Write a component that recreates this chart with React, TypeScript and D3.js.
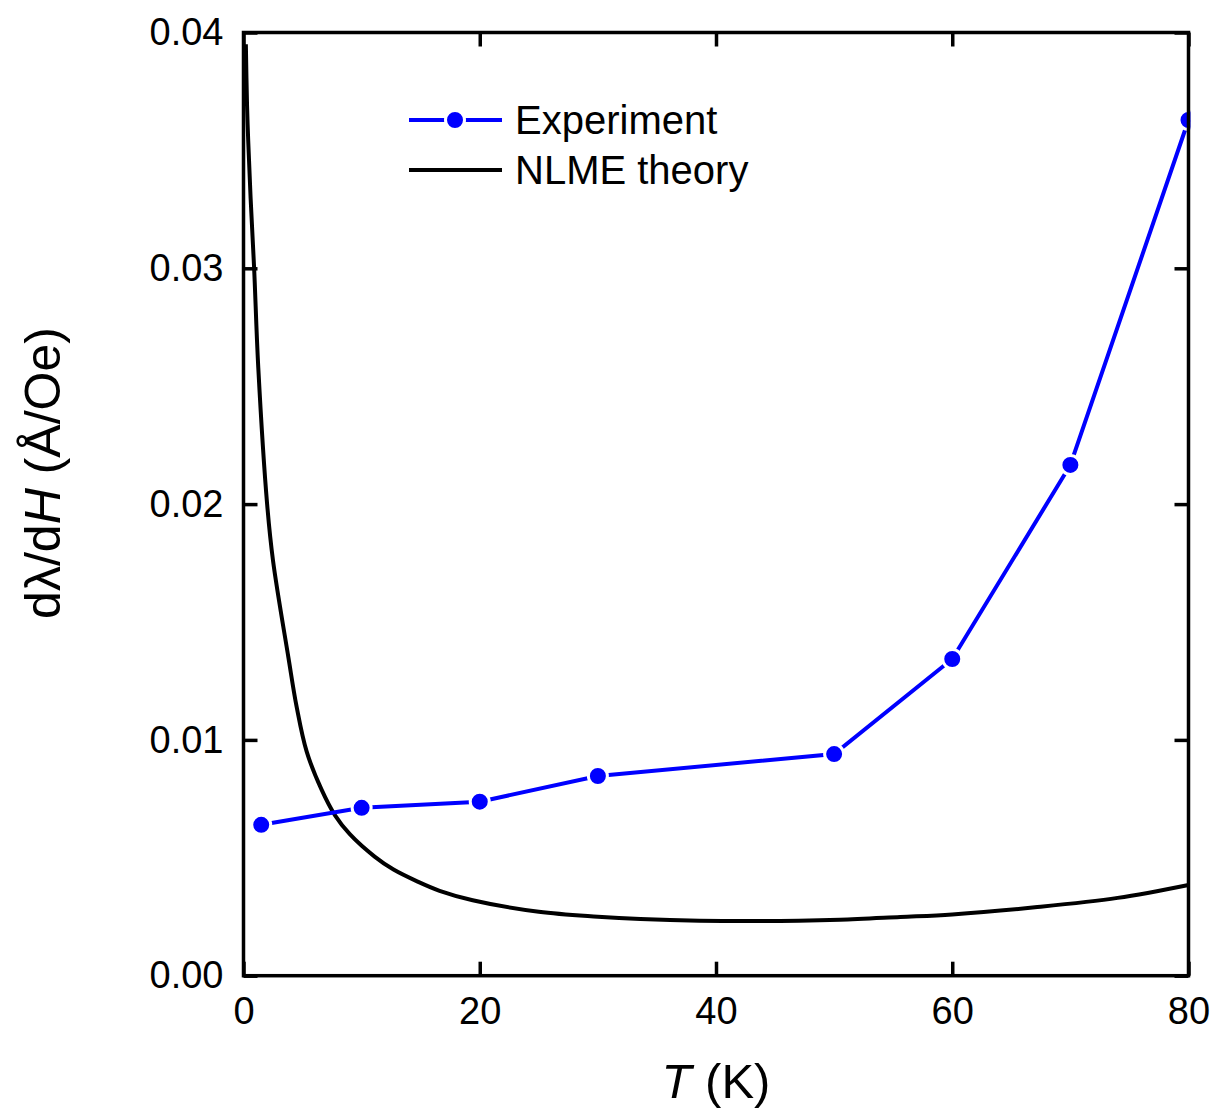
import { useEffect, useRef } from "react";
import * as d3 from "d3";

// Experiment points (T in K, dλ/dH in Å/Oe)
const expT = [1.5, 10, 20, 30, 50, 60, 70, 80];
const expV = [0.0064, 0.00712, 0.00738, 0.00847, 0.0094, 0.01343, 0.02166, 0.03629];

// NLME theory curve
const theoryT = [0.2, 0.3, 0.4, 0.6, 0.9, 1.25, 2.0, 2.5, 3.8, 4.5, 5.35, 6.6, 7.75, 9.0, 11.1, 12.7, 14.7, 16.6, 19.4, 25, 30, 33.6, 38.6, 47, 50.5, 55.6, 60, 67, 74, 80];
const theoryV = [0.0395, 0.0369, 0.0354, 0.033, 0.03, 0.0258, 0.02, 0.0176, 0.0135, 0.0114, 0.0095, 0.0079, 0.0068, 0.006, 0.00505, 0.0045, 0.0040, 0.0036, 0.0032, 0.00271, 0.0025, 0.0024, 0.00233, 0.00233, 0.00237, 0.00249, 0.0026, 0.0029, 0.0033, 0.00385];

const xTicks = [0, 20, 40, 60, 80];
const yTicks = [0, 0.01, 0.02, 0.03, 0.04];

const W = 1217;
const H = 1119;
const FONT = "'Liberation Sans', Arial, sans-serif";

export default function App() {
  const svgRef = useRef<SVGSVGElement>(null);

  useEffect(() => {
    if (!svgRef.current) return;
    const svg = d3.select(svgRef.current);
    svg.selectAll("*").remove();

    const margin = { left: 243.5, top: 32.5, right: W - 1188.5, bottom: H - 975.7 };
    const innerW = W - margin.left - margin.right;
    const innerH = H - margin.top - margin.bottom;

    const x = d3.scaleLinear().domain([0, 80]).range([0, innerW]);
    const y = d3.scaleLinear().domain([0, 0.04]).range([innerH, 0]);

    const g = svg.append("g").attr("transform", `translate(${margin.left},${margin.top})`);

    const clip = svg.append("defs").append("clipPath").attr("id", "plot-clip");
    clip.append("rect").attr("x", -2).attr("y", 0).attr("width", innerW + 4).attr("height", innerH);

    // axes with inward ticks
    const styleAxis = (sel: any) => {
      sel.select(".domain").remove();
      sel.selectAll(".tick line").attr("stroke", "#000").attr("stroke-width", 3.5);
      sel.selectAll("text").attr("fill", "#000").style("font-family", FONT).style("font-size", "38px");
    };

    g.append("g")
      .attr("transform", `translate(0,${innerH})`)
      .call(d3.axisBottom(x).tickValues(xTicks).tickSize(-14).tickSizeOuter(0).tickPadding(21).tickFormat(d3.format("d")))
      .call(styleAxis);
    g.append("g")
      .call(d3.axisTop(x).tickValues(xTicks).tickSize(-14).tickSizeOuter(0).tickFormat(() => ""))
      .call(styleAxis);
    g.append("g")
      .call(d3.axisLeft(y).tickValues(yTicks).tickSize(-14).tickSizeOuter(0).tickPadding(20).tickFormat(d3.format(".2f")))
      .call(styleAxis);
    g.append("g")
      .attr("transform", `translate(${innerW},0)`)
      .call(d3.axisRight(y).tickValues(yTicks).tickSize(-14).tickSizeOuter(0).tickFormat(() => ""))
      .call(styleAxis);

    // theory curve
    const theory = theoryT.map((t, i) => [t, theoryV[i]] as [number, number]);
    g.append("path")
      .datum(theory)
      .attr("clip-path", "url(#plot-clip)")
      .attr("fill", "none")
      .attr("stroke", "#000")
      .attr("stroke-width", 4)
      .attr("d", d3.line<[number, number]>().x(d => x(d[0])).y(d => y(d[1])).curve(d3.curveCatmullRom.alpha(0.5)));

    // experiment
    const exp = expT.map((t, i) => [t, expV[i]] as [number, number]);
    g.append("path")
      .datum(exp)
      .attr("fill", "none")
      .attr("stroke", "#0000ff")
      .attr("stroke-width", 4)
      .attr("d", d3.line<[number, number]>().x(d => x(d[0])).y(d => y(d[1])));

    g.append("g")
      .attr("clip-path", "url(#plot-clip)")
      .selectAll("circle")
      .data(exp)
      .enter()
      .append("circle")
      .attr("cx", d => x(d[0]))
      .attr("cy", d => y(d[1]))
      .attr("r", 9.5)
      .attr("fill", "#0000ff")
      .attr("stroke", "#fff")
      .attr("stroke-width", 3);

    // frame
    g.append("rect")
      .attr("width", innerW)
      .attr("height", innerH)
      .attr("fill", "none")
      .attr("stroke", "#000")
      .attr("stroke-width", 3.5);

    // legend
    const legend = svg.append("g").attr("transform", "translate(409,120)");
    legend.append("line").attr("x1", 0).attr("x2", 93).attr("y1", 0).attr("y2", 0)
      .attr("stroke", "#0000ff").attr("stroke-width", 4);
    legend.append("circle").attr("cx", 46).attr("cy", 0).attr("r", 9.5)
      .attr("fill", "#0000ff").attr("stroke", "#fff").attr("stroke-width", 3);
    legend.append("text").attr("x", 106).attr("y", 14).text("Experiment")
      .style("font-family", FONT).style("font-size", "40px");
    legend.append("line").attr("x1", 0).attr("x2", 93).attr("y1", 50).attr("y2", 50)
      .attr("stroke", "#000").attr("stroke-width", 4);
    legend.append("text").attr("x", 106).attr("y", 64).text("NLME theory")
      .style("font-family", FONT).style("font-size", "40px");

    // axis titles
    const xt = svg.append("text")
      .attr("x", margin.left + innerW / 2)
      .attr("y", 1098)
      .attr("text-anchor", "middle")
      .style("font-family", FONT)
      .style("font-size", "49px");
    xt.append("tspan").style("font-style", "italic").text("T");
    xt.append("tspan").text(" (K)");

    const yt = svg.append("text")
      .attr("transform", "translate(60,473) rotate(-90)")
      .attr("text-anchor", "middle")
      .style("font-family", FONT)
      .style("font-size", "50px");
    yt.append("tspan").text("dλ/d");
    yt.append("tspan").style("font-style", "italic").text("H");
    yt.append("tspan").text(" (Å/Oe)");
  }, []);

  return (
    <svg
      ref={svgRef}
      width={W}
      height={H}
      style={{ position: "absolute", left: 0, top: 0, background: "#fff" }}
    />
  );
}
